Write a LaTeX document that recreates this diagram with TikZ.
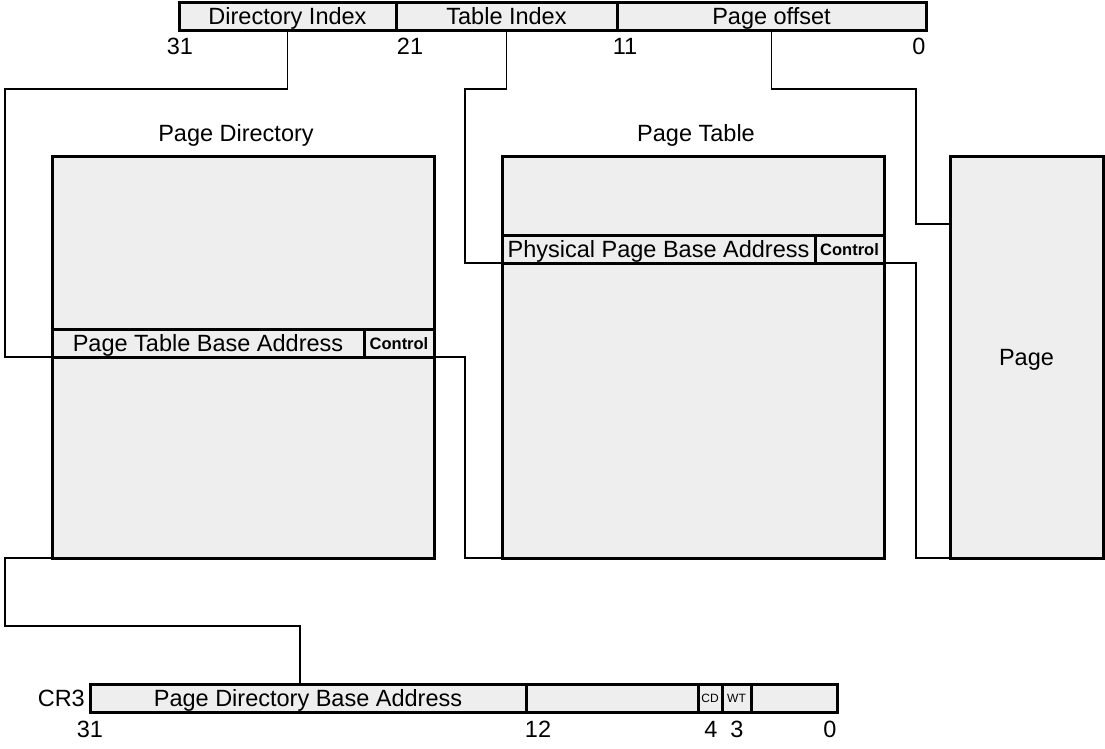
\documentclass[tikz,border=0pt]{standalone}
\usepackage{fontspec}
\setmainfont{Liberation Sans}
\usetikzlibrary{positioning}
\definecolor{boxfill}{RGB}{238, 238, 238}

\begin{document}
\begin{tikzpicture}[
    x=1pt, y=-1pt,
    field/.style={draw, fill=boxfill, line width=3pt, inner sep=0pt, outer sep=0pt, anchor=north west, text height=19pt, text depth=3pt, font=\fontsize{23.5}{25}\selectfont},
    ctlfield/.style={field, text height=14pt, text depth=2pt, font=\fontsize{16.5}{18}\selectfont\bfseries},
    tinyfield/.style={field, text height=10pt, text depth=1.4pt, font=\fontsize{12}{13}\selectfont},
    bitnum/.style={inner sep=0pt, font=\fontsize{23.5}{25}\selectfont},
    link/.style={line width=1.3pt}
]
    \useasboundingbox (0,0) rectangle (1105,748);

    % Linear address
    \node[field, minimum width=217pt, minimum height=28pt] (diridx) at (179,2) {Directory Index};
    \node[field, minimum width=221pt, minimum height=28pt] (tblidx) at (396,2) {Table Index};
    \node[field, minimum width=309pt, minimum height=28pt] (offset) at (617,2) {Page offset};
    \node[bitnum] (b31) at (180,46) {31};
    \node[bitnum] (b21) at (410,46) {21};
    \node[bitnum] (b11) at (625,46) {11};
    \node[bitnum] (b0) at (919,46) {0};

    % Page directory
    \node[field, minimum width=382pt, minimum height=402pt] (pdir) at (52,156) {};
    \node[bitnum] (pdirttl) at (236,135) {Page Directory};
    \node[field, minimum width=312pt, minimum height=28pt] (ptba) at (52,329) {Page Table Base Address};
    \node[ctlfield, minimum width=70pt, minimum height=28pt] (ctl1) at (364,329) {Control};

    % Page table
    \node[field, minimum width=382pt, minimum height=402pt] (ptbl) at (502,156) {};
    \node[bitnum] (ptblttl) at (696,135) {Page Table};
    \node[field, minimum width=313pt, minimum height=28pt] (ppba) at (502,235) {Physical Page Base Address};
    \node[ctlfield, minimum width=69pt, minimum height=28pt] (ctl2) at (815,235) {Control};

    % Page
    \node[field, minimum width=153pt, minimum height=402pt] (page) at (950,156) {Page};
    \coordinate (pagein) at (950,224);

    % CR3
    \node[field, minimum width=436pt, minimum height=28pt] (pdba) at (90,684) {Page Directory Base Address};
    \node[field, minimum width=172pt, minimum height=28pt] (cr3mid) at (526,684) {};
    \node[tinyfield, minimum width=24pt, minimum height=28pt] (cd) at (698,684) {CD};
    \node[tinyfield, minimum width=29pt, minimum height=28pt] (wt) at (722,684) {WT};
    \node[field, minimum width=86pt, minimum height=28pt] (cr3low) at (751,684) {};
    \node[bitnum, left=5pt of pdba] (cr3) {CR3};
    \node[bitnum] (c31) at (90,729) {31};
    \node[bitnum] (c12) at (538,729) {12};
    \node[bitnum] (c4) at (711,729) {4};
    \node[bitnum] (c3) at (737,729) {3};
    \node[bitnum] (c0) at (830,729) {0};
    \coordinate (cr3in) at (300,684);

    % Connectors
    \draw[link] (diridx.south) |- (5,89) |- (ptba.south west);
    \draw[link] (tblidx.south) |- (465,89) |- (ppba.south west);
    \draw[link] (offset.south) |- (916,89) |- (pagein);
    \draw[link] (ctl1.south east) -| (465,558) -- (ptbl.south west);
    \draw[link] (ctl2.south east) -| (916,558) -- (page.south west);
    \draw[link] (pdir.south west) -| (5,626) -| (cr3in);
\end{tikzpicture}
\end{document}
